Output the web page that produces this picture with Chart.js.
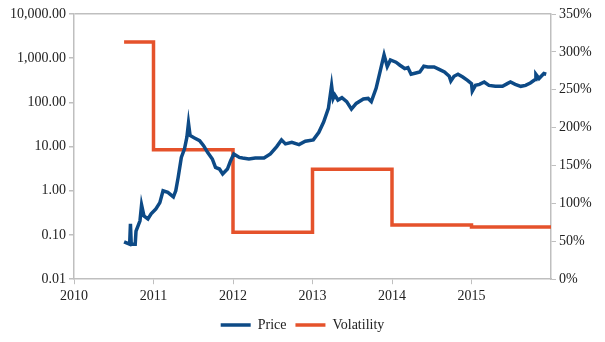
<!DOCTYPE html>
<html>
<head>
<meta charset="utf-8">
<script src="https://cdn.jsdelivr.net/npm/chart.js@4/dist/chart.umd.min.js"></script>
<style>
  html, body { margin: 0; padding: 0; background: #fff; }
  #wrap { width: 605px; height: 342px; }
</style>
</head>
<body>
<div id="wrap"><canvas id="myChart" width="605" height="342"></canvas></div>
<script>
// Price (USD, log scale)
var priceYears = [2010.63, 2010.70, 2010.71, 2010.72, 2010.77, 2010.78, 2010.83, 2010.85, 2010.88, 2010.93,
  2010.97, 2011.03, 2011.08, 2011.12, 2011.18, 2011.25, 2011.28, 2011.31, 2011.35, 2011.39,
  2011.42, 2011.44, 2011.46, 2011.51, 2011.58, 2011.63, 2011.68, 2011.74, 2011.78, 2011.83,
  2011.87, 2011.93, 2011.97, 2012.01, 2012.08, 2012.12, 2012.20, 2012.28, 2012.39, 2012.47,
  2012.55, 2012.61, 2012.66, 2012.74, 2012.83, 2012.91, 2013.01, 2013.08, 2013.14, 2013.20,
  2013.24, 2013.26, 2013.28, 2013.32, 2013.37, 2013.43, 2013.49, 2013.55, 2013.64, 2013.70,
  2013.74, 2013.80, 2013.85, 2013.90, 2013.94, 2013.98, 2014.05, 2014.10, 2014.16, 2014.20,
  2014.24, 2014.30, 2014.35, 2014.40, 2014.45, 2014.53, 2014.60, 2014.66, 2014.72, 2014.74,
  2014.78, 2014.83, 2014.89, 2014.95, 2015.00, 2015.01, 2015.05, 2015.10, 2015.16, 2015.22,
  2015.30, 2015.39, 2015.45, 2015.49, 2015.55, 2015.62, 2015.68, 2015.74, 2015.80, 2015.81,
  2015.85, 2015.91, 2015.94];
var priceValues = [0.07, 0.062, 0.178, 0.062, 0.062, 0.123, 0.21, 0.48, 0.27, 0.23,
  0.30, 0.39, 0.54, 1.0, 0.92, 0.73, 1.0, 2.0, 5.7, 8.9,
  16.3, 33.9, 17.8, 15.8, 13.7, 10.5, 7.4, 5.25, 3.39, 3.11,
  2.40, 3.11, 4.81, 6.82, 5.7, 5.5, 5.25, 5.5, 5.5, 6.82,
  10.0, 14.2, 11.5, 12.5, 11.1, 13.2, 14.2, 21.1, 36, 73,
  240, 123, 147, 113, 128, 104, 70.5, 95, 119, 123,
  104, 208, 499, 1189, 647, 914, 811, 693, 583, 615,
  433, 463, 488, 658, 634, 634, 553, 488, 390, 305,
  390, 433, 376, 316, 266, 181, 243, 256, 289, 243,
  231, 231, 266, 289, 256, 231, 243, 275, 328, 433,
  346, 449, 433];

// Yearly volatility (%) - each value holds until the next year
var volYears = [2010.63, 2011, 2012, 2013, 2014, 2015, 2016];
var volValues = [313, 171, 62, 145, 71.5, 69, 69];

var priceTicks = [0.01, 0.1, 1, 10, 100, 1000, 10000];
var yearTicks = [2010, 2011, 2012, 2013, 2014, 2015];

var axisGray = '#bfbfbf';
var txt = { family: "'Liberation Serif', serif", size: 14 };

var ctx = document.getElementById('myChart').getContext('2d');
var myChart = new Chart(ctx, {
  type: 'line',
  data: {
    datasets: [{
      label: 'Price',
      data: priceYears.map(function (x, i) { return { x: x, y: priceValues[i] }; }),
      borderColor: '#0d4a86',
      backgroundColor: '#0d4a86',
      borderWidth: 3.5,
      pointRadius: 0,
      tension: 0,
      yAxisID: 'y'
    }, {
      label: 'Volatility',
      data: volYears.map(function (x, i) { return { x: x, y: volValues[i] }; }),
      borderColor: '#e5522b',
      backgroundColor: '#e5522b',
      borderWidth: 3.5,
      pointRadius: 0,
      stepped: 'before',
      yAxisID: 'y1'
    }]
  },
  options: {
    responsive: false,
    animation: false,
    layout: { padding: { top: 14, left: 0, right: 0, bottom: 0 } },
    plugins: {
      tooltip: { enabled: false },
      legend: {
        position: 'bottom',
        labels: {
          usePointStyle: true,
          pointStyle: 'line',
          pointStyleWidth: 30,
          boxHeight: 8,
          color: '#222',
          font: txt,
          padding: 9
        }
      }
    },
    scales: {
      x: {
        type: 'linear',
        min: 2010,
        max: 2016,
        afterBuildTicks: function (s) { s.ticks = yearTicks.map(function (v) { return { value: v }; }); },
        ticks: {
          color: '#222', font: txt, padding: 4, maxRotation: 0,
          callback: function (v) { return String(v); }
        },
        grid: { drawOnChartArea: false, tickColor: axisGray, tickLength: 5 },
        border: { color: axisGray, width: 1.5 }
      },
      y: {
        type: 'logarithmic',
        position: 'left',
        min: 0.01,
        max: 10000,
        afterBuildTicks: function (s) { s.ticks = priceTicks.map(function (v) { return { value: v }; }); },
        afterFit: function (s) { s.width = 74; },
        ticks: {
          color: '#222',
          font: txt,
          padding: 3,
          callback: function (v) {
            return Number(v).toLocaleString('en-US', { minimumFractionDigits: 2, maximumFractionDigits: 2 });
          }
        },
        grid: {
          color: function (c) { return c.tick && c.tick.value === 10000 ? axisGray : 'rgba(0,0,0,0)'; },
          lineWidth: 1.5,
          tickColor: axisGray,
          tickLength: 5
        },
        border: { color: axisGray, width: 1.5 }
      },
      y1: {
        type: 'linear',
        position: 'right',
        min: 0,
        max: 350,
        afterFit: function (s) { s.width = 54; },
        ticks: {
          stepSize: 50,
          color: '#222',
          font: txt,
          padding: 3,
          callback: function (v) { return v + '%'; }
        },
        grid: { drawOnChartArea: false, tickColor: axisGray, tickLength: 5 },
        border: { color: axisGray, width: 1.5 }
      }
    }
  }
});
</script>
</body>
</html>
